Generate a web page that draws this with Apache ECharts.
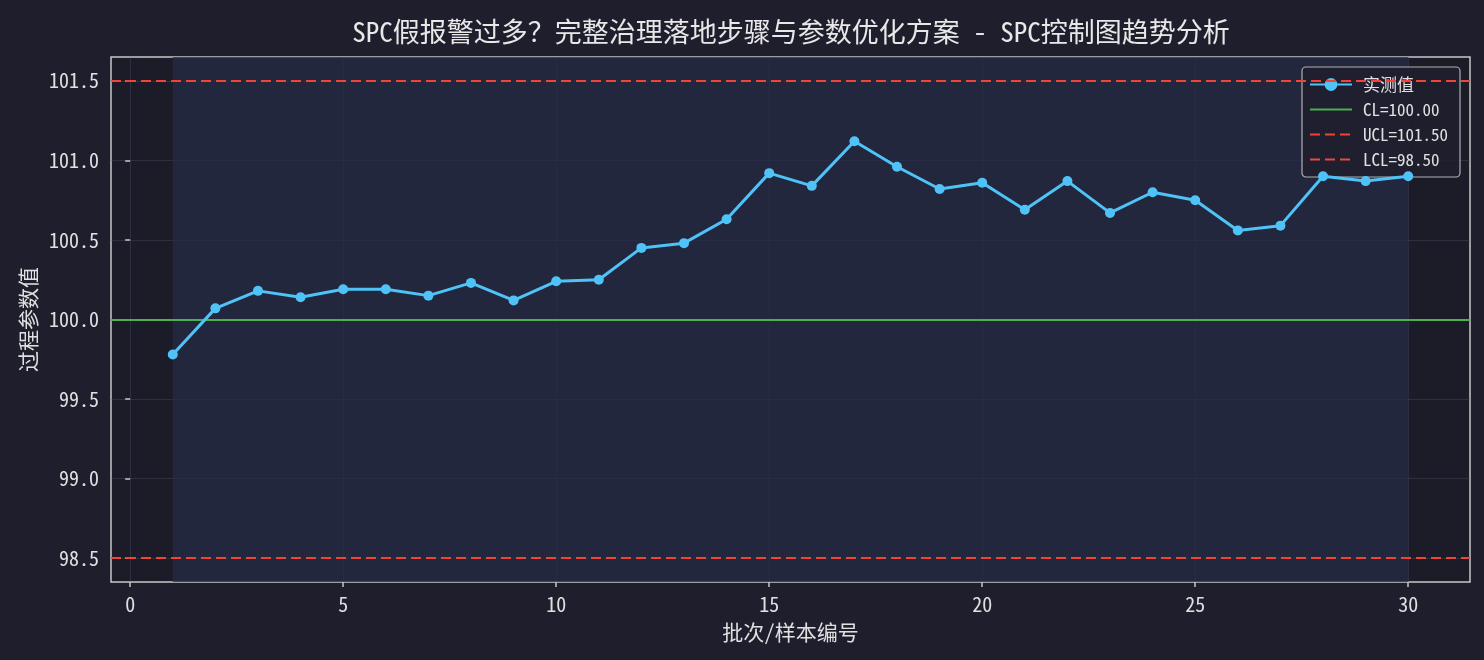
<!DOCTYPE html>
<html>
<head>
<meta charset="utf-8">
<script src="https://cdn.jsdelivr.net/npm/echarts@6/dist/echarts.min.js"></script>
<style>
html,body{margin:0;padding:0;background:#1f1e2d;}
#chart{width:1484px;height:660px;}
</style>
</head>
<body>
<div id="chart"></div>
<script>
// ---- data ----
const titleText = 'SPC假报警过多？完整治理落地步骤与参数优化方案 - SPC控制图趋势分析';
const sampleNos = [1,2,3,4,5,6,7,8,9,10,11,12,13,14,15,16,17,18,19,20,21,22,23,24,25,26,27,28,29,30];
const measured = [99.78,100.07,100.18,100.14,100.19,100.19,100.15,100.23,100.12,100.24,100.25,100.45,100.48,100.63,100.92,100.84,101.12,100.96,100.82,100.86,100.69,100.87,100.67,100.80,100.75,100.56,100.59,100.90,100.87,100.90];
const CL = 100.00;
const UCL = 101.50;
const LCL = 98.50;
const xTicks = [0,5,10,15,20,25,30];
const yTicks = [98.5,99.0,99.5,100.0,100.5,101.0,101.5];
const seriesNames = ['实测值','CL=100.00','UCL=101.50','LCL=98.50'];

const FONT = "'Noto Sans Mono CJK SC','Noto Sans CJK SC','DejaVu Sans Mono',monospace";
const TXT = '#e0e0e0';

const chart = echarts.init(document.getElementById('chart'), null, {renderer:'canvas'});
const first = sampleNos[0], last = sampleNos[sampleNos.length-1];
const span = last - first;
const xMin = first - span*0.05, xMax = last + span*0.05;
const yr = UCL - LCL;
const yMin = LCL - yr*0.05, yMax = UCL + yr*0.05;

const option = {
  backgroundColor: '#1f1e2d',
  textStyle: {fontFamily: FONT},
  title: {
    text: titleText,
    left: 786, textAlign: 'center', top: 13,
    textStyle: {color: '#e8e8e8', fontSize: 27, fontWeight: 'normal', fontFamily: FONT}
  },
  grid: {
    left: 111, right: 14, top: 57, bottom: 78,
    show: true, backgroundColor: '#1c1b28', borderColor: '#c8c8c8', borderWidth: 1.5
  },
  legend: {
    orient: 'vertical', right: 24, top: 67,
    data: [
      {name: seriesNames[0]},
      {name: seriesNames[1], itemStyle: {opacity: 0}},
      {name: seriesNames[2], itemStyle: {opacity: 0}},
      {name: seriesNames[3], itemStyle: {opacity: 0}}
    ],
    itemWidth: 42, itemHeight: 16, itemGap: 8,
    padding: [9, 12, 9, 7],
    backgroundColor: 'rgba(31,30,45,0.85)', borderColor: '#b0b0b0', borderWidth: 1.2, borderRadius: 4,
    textStyle: {color: TXT, fontSize: 17, lineHeight: 16, padding: [0, 0, 0, 6], fontFamily: FONT}
  },
  xAxis: {
    type: 'value', min: xMin, max: xMax, minInterval: 5, maxInterval: 5,
    name: '批次/样本编号', nameLocation: 'middle', nameGap: 40,
    nameTextStyle: {color: TXT, fontSize: 21, fontFamily: FONT},
    axisLine: {show: false},
    axisTick: {show: true, length: 5, lineStyle: {color: '#c8c8c8', width: 1.5}, customValues: xTicks},
    axisLabel: {color: TXT, fontSize: 20, margin: 12, customValues: xTicks, fontFamily: FONT},
    splitLine: {show: true, lineStyle: {color: 'rgba(80,85,110,0.35)', width: 1}}
  },
  yAxis: {
    type: 'value', min: yMin, max: yMax, minInterval: 0.5, maxInterval: 0.5,
    name: '过程参数值', nameLocation: 'middle', nameGap: 70,
    nameTextStyle: {color: TXT, fontSize: 21, fontFamily: FONT},
    axisLine: {show: false},
    axisTick: {show: true, length: 5, lineStyle: {color: '#c8c8c8', width: 1.5}, customValues: yTicks},
    axisLabel: {color: TXT, fontSize: 20, margin: 12, customValues: yTicks, formatter: v => v.toFixed(1), fontFamily: FONT},
    splitLine: {show: true, lineStyle: {color: 'rgba(80,85,110,0.35)', width: 1}}
  },
  series: [
    {
      name: seriesNames[0], type: 'line',
      data: sampleNos.map((x,i) => [x, measured[i]]),
      symbol: 'circle', symbolSize: 10,
      lineStyle: {color: '#4fc3f7', width: 3},
      itemStyle: {color: '#4fc3f7'},
      z: 5,
      markArea: {
        silent: true,
        itemStyle: {color: 'rgba(36,44,68,0.75)'},
        data: [[{xAxis: first}, {xAxis: last}]]
      }
    },
    {
      name: seriesNames[1], type: 'line', data: [],
      lineStyle: {color: '#4caf50', width: 2.2}, itemStyle: {color: '#4caf50'}, symbol: 'none',
      markLine: {silent: true, symbol: 'none', label: {show: false},
        lineStyle: {color: '#4caf50', width: 2, type: 'solid'}, data: [{yAxis: CL}]}, z: 3
    },
    {
      name: seriesNames[2], type: 'line', data: [],
      lineStyle: {color: '#f44336', width: 2.2, type: [10, 5]}, itemStyle: {color: '#f44336'}, symbol: 'none',
      markLine: {silent: true, symbol: 'none', label: {show: false},
        lineStyle: {color: '#f44336', width: 2, type: [10, 5]}, data: [{yAxis: UCL}]}, z: 3
    },
    {
      name: seriesNames[3], type: 'line', data: [],
      lineStyle: {color: '#e84a3c', width: 2.2, type: [10, 5]}, itemStyle: {color: '#e84a3c'}, symbol: 'none',
      markLine: {silent: true, symbol: 'none', label: {show: false},
        lineStyle: {color: '#f44336', width: 2, type: [10, 5]}, data: [{yAxis: LCL}]}, z: 3
    }
  ]
};
chart.setOption(option);
</script>
</body>
</html>
